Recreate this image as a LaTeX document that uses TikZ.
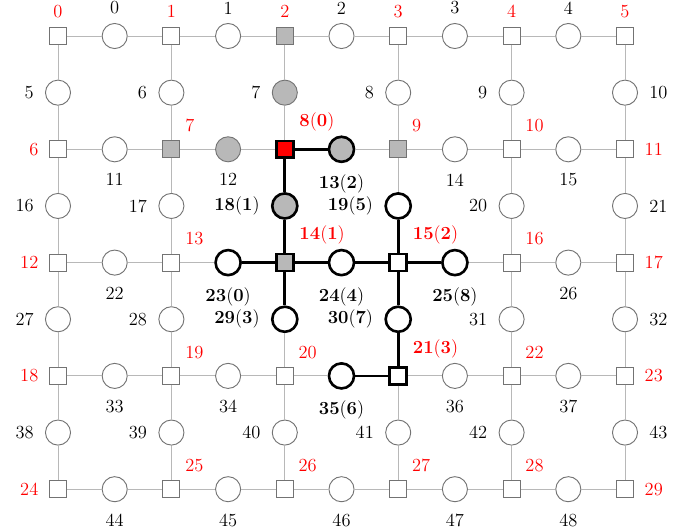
\documentclass[tikz,border=0pt]{standalone}
\usepackage{tikz}
\newcommand\markhot[2]{\expandafter\def\csname hot@#1@#2\endcsname{}}
\newcommand\gedge[2]{\ifcsname hot@#1@#2\endcsname\else\draw[gline] (#1) -- (#2);\fi}
\begin{document}
\begin{tikzpicture}[x=0.65pt,y=-0.65pt,
  base/.style={draw=black!55,fill=white,line width=0.6pt,inner sep=0pt},
  sq/.style={base,rectangle,minimum size=11pt},
  ci/.style={base,circle,minimum size=16.3pt},
  hot/.style={draw=black,line width=1.7pt},
  gf/.style={fill=black!28},
  rf/.style={fill=red},
  lab/.style={text=black,font=\large,inner sep=3pt,label distance=4.2pt},
  labA/.style={text=black,font=\large,inner sep=3pt,label distance=2.5pt},
  rlab/.style={text=red,font=\large,inner sep=3pt,label distance=3.8pt},
  rlabA/.style={text=red,font=\large,inner sep=3pt,label distance=3pt},
  arlab/.style={text=red,font=\large,inner sep=3pt,yshift=2.3pt},
  gline/.style={draw=black!28,line width=0.6pt},
  hline/.style={draw=black,line width=1.7pt}]
\useasboundingbox (0,0) rectangle (693,531);
% squares
\node[sq,label={[rlabA]above:0}] (s0) at (58,36) {};
\node[sq,label={[rlabA]above:1}] (s1) at (171.4,36) {};
\node[sq,gf,label={[rlabA]above:2}] (s2) at (284.8,36) {};
\node[sq,label={[rlabA]above:3}] (s3) at (398.2,36) {};
\node[sq,label={[rlabA]above:4}] (s4) at (511.6,36) {};
\node[sq,label={[rlabA]above:5}] (s5) at (625,36) {};
\node[sq,label={[rlab]left:6}] (s6) at (58,149.3) {};
\node[sq,gf,label={[arlab]above right:7}] (s7) at (171.4,149.3) {};
\node[sq,rf,hot,label={[arlab]above right:$\mathbf{8}(\mathbf{0})$}] (s8) at (284.8,149.3) {};
\node[sq,gf,label={[arlab]above right:9}] (s9) at (398.2,149.3) {};
\node[sq,label={[arlab]above right:10}] (s10) at (511.6,149.3) {};
\node[sq,label={[rlab]right:11}] (s11) at (625,149.3) {};
\node[sq,label={[rlab]left:12}] (s12) at (58,262.6) {};
\node[sq,label={[arlab]above right:13}] (s13) at (171.4,262.6) {};
\node[sq,gf,hot,label={[arlab]above right:$\mathbf{14}(\mathbf{1})$}] (s14) at (284.8,262.6) {};
\node[sq,hot,label={[arlab]above right:$\mathbf{15}(\mathbf{2})$}] (s15) at (398.2,262.6) {};
\node[sq,label={[arlab]above right:16}] (s16) at (511.6,262.6) {};
\node[sq,label={[rlab]right:17}] (s17) at (625,262.6) {};
\node[sq,label={[rlab]left:18}] (s18) at (58,375.9) {};
\node[sq,label={[arlab]above right:19}] (s19) at (171.4,375.9) {};
\node[sq,label={[arlab]above right:20}] (s20) at (284.8,375.9) {};
\node[sq,hot,label={[arlab]above right:$\mathbf{21}(\mathbf{3})$}] (s21) at (398.2,375.9) {};
\node[sq,label={[arlab]above right:22}] (s22) at (511.6,375.9) {};
\node[sq,label={[rlab]right:23}] (s23) at (625,375.9) {};
\node[sq,label={[rlab]left:24}] (s24) at (58,489.2) {};
\node[sq,label={[arlab]above right:25}] (s25) at (171.4,489.2) {};
\node[sq,label={[arlab]above right:26}] (s26) at (284.8,489.2) {};
\node[sq,label={[arlab]above right:27}] (s27) at (398.2,489.2) {};
\node[sq,label={[arlab]above right:28}] (s28) at (511.6,489.2) {};
\node[sq,label={[rlab]right:29}] (s29) at (625,489.2) {};
% horizontal circles
\node[ci,label={[labA]above:0}] (c0) at (114.7,36) {};
\node[ci,label={[labA]above:1}] (c1) at (228.1,36) {};
\node[ci,label={[labA]above:2}] (c2) at (341.5,36) {};
\node[ci,label={[labA]above:3}] (c3) at (454.9,36) {};
\node[ci,label={[labA]above:4}] (c4) at (568.3,36) {};
\node[ci,label={[lab]below:11}] (c11) at (114.7,149.3) {};
\node[ci,gf,label={[lab]below:12}] (c12) at (228.1,149.3) {};
\node[ci,gf,hot,label={[lab]below:$\mathbf{13}(\mathbf{2})$}] (c13) at (341.5,149.3) {};
\node[ci,label={[lab]below:14}] (c14) at (454.9,149.3) {};
\node[ci,label={[lab]below:15}] (c15) at (568.3,149.3) {};
\node[ci,label={[lab]below:22}] (c22) at (114.7,262.6) {};
\node[ci,hot,label={[lab]below:$\mathbf{23}(\mathbf{0})$}] (c23) at (228.1,262.6) {};
\node[ci,hot,label={[lab]below:$\mathbf{24}(\mathbf{4})$}] (c24) at (341.5,262.6) {};
\node[ci,hot,label={[lab]below:$\mathbf{25}(\mathbf{8})$}] (c25) at (454.9,262.6) {};
\node[ci,label={[lab]below:26}] (c26) at (568.3,262.6) {};
\node[ci,label={[lab]below:33}] (c33) at (114.7,375.9) {};
\node[ci,label={[lab]below:34}] (c34) at (228.1,375.9) {};
\node[ci,hot,label={[lab]below:$\mathbf{35}(\mathbf{6})$}] (c35) at (341.5,375.9) {};
\node[ci,label={[lab]below:36}] (c36) at (454.9,375.9) {};
\node[ci,label={[lab]below:37}] (c37) at (568.3,375.9) {};
\node[ci,label={[lab]below:44}] (c44) at (114.7,489.2) {};
\node[ci,label={[lab]below:45}] (c45) at (228.1,489.2) {};
\node[ci,label={[lab]below:46}] (c46) at (341.5,489.2) {};
\node[ci,label={[lab]below:47}] (c47) at (454.9,489.2) {};
\node[ci,label={[lab]below:48}] (c48) at (568.3,489.2) {};
% vertical circles
\node[ci,label={[lab]left:5}] (c5) at (58,92.65) {};
\node[ci,label={[lab]left:6}] (c6) at (171.4,92.65) {};
\node[ci,gf,label={[lab]left:7}] (c7) at (284.8,92.65) {};
\node[ci,label={[lab]left:8}] (c8) at (398.2,92.65) {};
\node[ci,label={[lab]left:9}] (c9) at (511.6,92.65) {};
\node[ci,label={[lab]right:10}] (c10) at (625,92.65) {};
\node[ci,label={[lab]left:16}] (c16) at (58,205.95) {};
\node[ci,label={[lab]left:17}] (c17) at (171.4,205.95) {};
\node[ci,gf,hot,label={[lab]left:$\mathbf{18}(\mathbf{1})$}] (c18) at (284.8,205.95) {};
\node[ci,hot,label={[lab]left:$\mathbf{19}(\mathbf{5})$}] (c19) at (398.2,205.95) {};
\node[ci,label={[lab]left:20}] (c20) at (511.6,205.95) {};
\node[ci,label={[lab]right:21}] (c21) at (625,205.95) {};
\node[ci,label={[lab]left:27}] (c27) at (58,319.25) {};
\node[ci,label={[lab]left:28}] (c28) at (171.4,319.25) {};
\node[ci,hot,label={[lab]left:$\mathbf{29}(\mathbf{3})$}] (c29) at (284.8,319.25) {};
\node[ci,hot,label={[lab]left:$\mathbf{30}(\mathbf{7})$}] (c30) at (398.2,319.25) {};
\node[ci,label={[lab]left:31}] (c31) at (511.6,319.25) {};
\node[ci,label={[lab]right:32}] (c32) at (625,319.25) {};
\node[ci,label={[lab]left:38}] (c38) at (58,432.55) {};
\node[ci,label={[lab]left:39}] (c39) at (171.4,432.55) {};
\node[ci,label={[lab]left:40}] (c40) at (284.8,432.55) {};
\node[ci,label={[lab]left:41}] (c41) at (398.2,432.55) {};
\node[ci,label={[lab]left:42}] (c42) at (511.6,432.55) {};
\node[ci,label={[lab]right:43}] (c43) at (625,432.55) {};
% highlighted edges
\markhot{s8}{c13}\markhot{s8}{c18}\markhot{c18}{s14}
\markhot{c23}{s14}\markhot{s14}{c24}\markhot{c24}{s15}
\markhot{s15}{c25}\markhot{s14}{c29}\markhot{c19}{s15}
\markhot{s15}{c30}\markhot{c30}{s21}\markhot{c35}{s21}
% gray edges
\foreach \r in {0,...,4}{\foreach \c in {0,...,4}{
  \pgfmathtruncatemacro\ia{6*\r+\c}
  \pgfmathtruncatemacro\ib{11*\r+\c}
  \pgfmathtruncatemacro\ic{\ia+1}
  \gedge{s\ia}{c\ib}\gedge{c\ib}{s\ic}}}
\foreach \r in {0,...,3}{\foreach \c in {0,...,5}{
  \pgfmathtruncatemacro\ia{6*\r+\c}
  \pgfmathtruncatemacro\ib{11*\r+5+\c}
  \pgfmathtruncatemacro\ic{\ia+6}
  \gedge{s\ia}{c\ib}\gedge{c\ib}{s\ic}}}
% black edges
\draw[hline] (s8) -- (c13);
\draw[hline] (s8) -- (c18);
\draw[hline] (c18) -- (s14);
\draw[hline] (c23) -- (s14);
\draw[hline] (s14) -- (c24);
\draw[hline] (c24) -- (s15);
\draw[hline] (s15) -- (c25);
\draw[hline] (s14) -- (c29);
\draw[hline] (c19) -- (s15);
\draw[hline] (s15) -- (c30);
\draw[hline] (c30) -- (s21);
\draw[hline] (c35) -- (s21);
\end{tikzpicture}
\end{document}
